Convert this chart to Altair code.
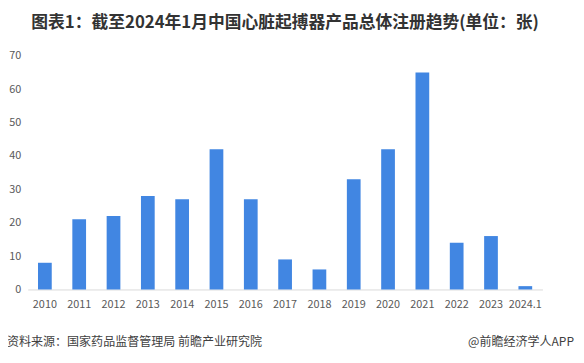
import altair as alt
import pandas as pd

years = ["2010", "2011", "2012", "2013", "2014", "2015", "2016", "2017", "2018",
         "2019", "2020", "2021", "2022", "2023", "2024.1"]
counts = [8, 21, 22, 28, 27, 42, 27, 9, 6, 33, 42, 65, 14, 16, 1]

title_text = "图表1：截至2024年1月中国心脏起搏器产品总体注册趋势(单位：张)"
source_text = "资料来源：国家药品监督管理局 前瞻产业研究院"
credit_text = "@前瞻经济学人APP"

FONT = "Noto Sans CJK SC"

df = pd.DataFrame({"year": years, "count": counts})

bars = alt.Chart(df).mark_bar(color="#4186E2").encode(
    x=alt.X("year:N", sort=years, title=None,
            scale=alt.Scale(paddingInner=0.6, paddingOuter=0.3),
            axis=alt.Axis(labelAngle=0, ticks=False, domainColor="#d9d9d9",
                          labelColor="#595959", labelFontSize=11, labelPadding=9,
                          labelFont=FONT)),
    y=alt.Y("count:Q", title=None,
            scale=alt.Scale(domain=[0, 70]),
            axis=alt.Axis(values=list(range(0, 80, 10)), grid=False, domain=False,
                          ticks=False, labelColor="#595959", labelFontSize=11,
                          labelPadding=7, labelFont=FONT)),
)

foot = pd.DataFrame({"t": [source_text]})
src = alt.Chart(foot).mark_text(align="left", baseline="middle", fontSize=12.2,
                                font=FONT, color="#404040").encode(
    text="t:N", x=alt.value(-21), y=alt.value(290))

cred = pd.DataFrame({"t": [credit_text]})
crd = alt.Chart(cred).mark_text(align="right", baseline="middle", fontSize=12.2,
                                font=FONT, color="#404040").encode(
    text="t:N", x=alt.value(554), y=alt.value(290))

chart = alt.layer(bars, src, crd).properties(
    width=522, height=237,
    title=alt.TitleParams(title_text, anchor="middle", fontSize=17, font=FONT,
                          fontWeight="bold", color="#333333", offset=18),
    autosize=alt.AutoSizeParams(type="none"),
    padding={"left": 20, "top": 46, "right": 34, "bottom": 64},
).configure_view(stroke=None)

chart.save("out.html", embed_options={"renderer": "svg", "actions": False})
